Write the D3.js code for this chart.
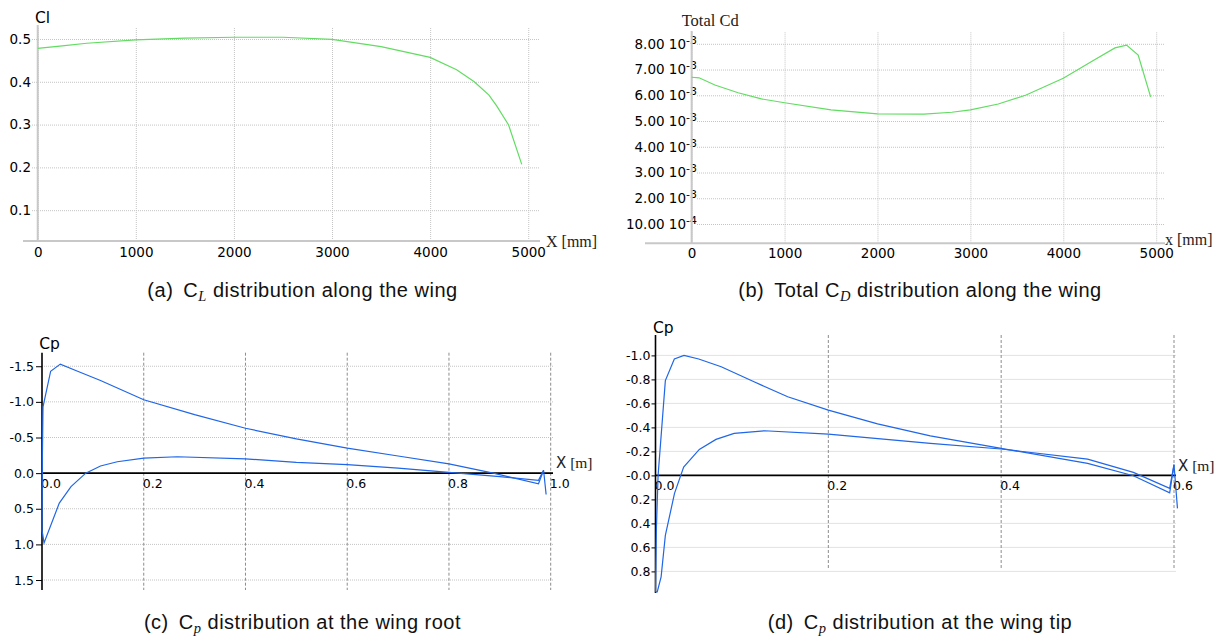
<!DOCTYPE html>
<html>
<head>
<meta charset="utf-8">
<script src="https://cdn.jsdelivr.net/npm/d3@7"></script>
<style>
  body { margin: 0; background: #fff; }
  svg { display: block; }
</style>
</head>
<body>
<svg id="fig" width="1225" height="639"></svg>
<script>
// ---------- data ----------
// (a) lift coefficient along the span
const clSpan   = [0, 250, 500, 1000, 1500, 2000, 2500, 3000, 3500, 4000, 4270, 4450, 4600, 4680, 4800, 4934];
const clValues = [0.478, 0.484, 0.490, 0.498, 0.502, 0.504, 0.504, 0.499, 0.482, 0.457, 0.428, 0.400, 0.369, 0.343, 0.299, 0.207];
const clTicks  = [0.1, 0.2, 0.3, 0.4, 0.5];
const spanTicks = [0, 1000, 2000, 3000, 4000, 5000];

// (b) total drag coefficient along the span (x 1e-3)
const cdSpan   = [0, 80, 250, 500, 750, 1000, 1500, 2000, 2500, 2800, 3000, 3300, 3600, 4000, 4300, 4556, 4681, 4806, 4940];
const cdValues = [6.70, 6.68, 6.40, 6.10, 5.86, 5.71, 5.43, 5.28, 5.27, 5.34, 5.43, 5.66, 6.01, 6.66, 7.30, 7.84, 7.95, 7.56, 5.94];
const cdTicks  = [1, 2, 3, 4, 5, 6, 7, 8];
const cdTickMantissa = ["10.00", "2.00", "3.00", "4.00", "5.00", "6.00", "7.00", "8.00"];
const cdTickExponent = ["-4", "-3", "-3", "-3", "-3", "-3", "-3", "-3"];

// (c) pressure coefficient at the root section
const rootUpperX  = [0, 0.0008, 0.002, 0.017, 0.036, 0.07, 0.115, 0.2, 0.3, 0.4, 0.5, 0.6, 0.7, 0.8, 0.887, 0.976, 0.986, 0.991];
const rootUpperCp = [0.80, -0.25, -0.93, -1.43, -1.53, -1.43, -1.30, -1.03, -0.82, -0.63, -0.48, -0.35, -0.24, -0.13, 0.0, 0.15, -0.04, 0.30];
const rootLowerX  = [0, 0.004, 0.034, 0.057, 0.086, 0.115, 0.148, 0.2, 0.266, 0.4, 0.5, 0.6, 0.7, 0.8, 0.9, 0.976, 0.986];
const rootLowerCp = [0.80, 0.98, 0.42, 0.19, 0.0, -0.10, -0.16, -0.21, -0.23, -0.20, -0.15, -0.12, -0.07, -0.01, 0.05, 0.10, -0.04];
const rootXTicks  = [0, 0.2, 0.4, 0.6, 0.8, 1.0];
const rootXTickLabels = ["0.0", "0.2", "0.4", "0.6", "0.8", "1.0"];
const rootCpTicks = [-1.5, -1.0, -0.5, 0, 0.5, 1.0, 1.5];
const rootCpTickLabels = ["-1.5", "-1.0", "-0.5", "0.0", "0.5", "1.0", "1.5"];

// (d) pressure coefficient at the tip section
const tipUpperX  = [0, 0.001, 0.003, 0.0114, 0.0218, 0.033, 0.05, 0.076, 0.114, 0.153, 0.2, 0.257, 0.318, 0.4, 0.5, 0.553, 0.595, 0.6, 0.604];
const tipUpperCp = [0.97, 0.45, 0.0, -0.79, -0.97, -1.00, -0.97, -0.905, -0.78, -0.655, -0.544, -0.43, -0.33, -0.225, -0.10, 0.003, 0.145, -0.09, 0.275];
const tipLowerX  = [0, 0.002, 0.0065, 0.0114, 0.022, 0.0326, 0.0507, 0.07, 0.091, 0.126, 0.2, 0.318, 0.4, 0.5, 0.553, 0.595, 0.6];
const tipLowerCp = [0.97, 0.97, 0.845, 0.50, 0.15, -0.07, -0.217, -0.30, -0.35, -0.372, -0.344, -0.267, -0.22, -0.136, -0.025, 0.108, -0.09];
const tipXTicks  = [0, 0.2, 0.4, 0.6];
const tipXTickLabels = ["0.0", "0.2", "0.4", "0.6"];
const tipCpTicks = [-1.0, -0.8, -0.6, -0.4, -0.2, 0, 0.2, 0.4, 0.6, 0.8];
const tipCpTickLabels = ["-1.0", "-0.8", "-0.6", "-0.4", "-0.2", "-0.0", "0.2", "0.4", "0.6", "0.8"];

// ---------- styling ----------
const SANS = "'DejaVu Sans', Verdana, sans-serif";
const SERIF = "'Liberation Serif', 'Times New Roman', serif";
const CAPTION = "'Liberation Sans', Arial, Helvetica, sans-serif";
const GREEN = "#62dc62";
const BLUE = "#1f66e8";
const GRID = "#c4c4c4";
const AXIS_GREY = "#c8c8c8";

const svg = d3.select("#fig");
svg.append("rect").attr("width", 1225).attr("height", 639).attr("fill", "#fff");

function styleTickText(sel, size) {
  sel.attr("font-family", SANS).attr("font-size", size).attr("fill", "#000");
}

// ---------- (a) Cl along the span ----------
{
  const x = d3.scaleLinear().domain([-150, 5120]).range([23, 540]);
  const y = d3.scaleLinear().domain([0.028, 0.528]).range([241, 27]);
  const g = svg.append("g");

  const ya = g.append("g").attr("transform", "translate(32,0)")
    .call(d3.axisLeft(y).tickValues(clTicks).tickFormat(v => v.toFixed(1))
      .tickSize(-(540 - 32)).tickPadding(1));
  ya.select(".domain").remove();
  ya.selectAll(".tick line").attr("stroke", GRID).attr("stroke-dasharray", "1,1");
  styleTickText(ya.selectAll(".tick text"), 13.5);

  const xa = g.append("g").attr("transform", "translate(0,241)")
    .call(d3.axisBottom(x).tickValues(spanTicks).tickFormat(d3.format("d"))
      .tickSize(-(241 - 27)).tickPadding(6.3));
  xa.select(".domain").remove();
  xa.selectAll(".tick line").attr("stroke", GRID).attr("stroke-dasharray", "1,1");
  styleTickText(xa.selectAll(".tick text"), 13.5);

  g.append("line").attr("x1", x(0)).attr("x2", x(0)).attr("y1", 25).attr("y2", 242)
    .attr("stroke", AXIS_GREY).attr("stroke-width", 2);
  g.append("line").attr("x1", 23).attr("x2", 540).attr("y1", 241).attr("y2", 241)
    .attr("stroke", AXIS_GREY).attr("stroke-width", 2);

  g.append("path").datum(d3.zip(clSpan, clValues))
    .attr("fill", "none").attr("stroke", GREEN).attr("stroke-width", 1.2)
    .attr("d", d3.line().x(d => x(d[0])).y(d => y(d[1])));

  g.append("text").attr("x", 35).attr("y", 23.3).attr("font-family", SANS)
    .attr("font-size", 15.5).attr("fill", "#000").text("Cl");
  g.append("text").attr("x", 546).attr("y", 246.5).attr("font-family", SERIF)
    .attr("font-size", 16).attr("fill", "#222").text("X [mm]");
}

// ---------- (b) total Cd along the span ----------
{
  const x = d3.scaleLinear().domain([-500, 5100]).range([645.2, 1165.5]);
  const y = d3.scaleLinear().domain([0.25, 8.47]).range([243.3, 31.7]);
  const g = svg.append("g");

  const ya = g.append("g").attr("transform", "translate(697,0)")
    .call(d3.axisLeft(y).tickValues(cdTicks).tickFormat("")
      .tickSize(-(1165 - 697)).tickPadding(0));
  ya.select(".domain").remove();
  ya.selectAll(".tick line").attr("stroke", GRID).attr("stroke-dasharray", "1,1");
  ya.selectAll(".tick text").each(function(d, i) {
    const t = d3.select(this);
    styleTickText(t, 13.5);
    t.append("tspan").text(cdTickMantissa[i] + " 10");
    t.append("tspan").attr("font-size", 11).attr("dy", "-0.45em").text(cdTickExponent[i]);
  });

  const xa = g.append("g").attr("transform", "translate(0,243.3)")
    .call(d3.axisBottom(x).tickValues(spanTicks).tickFormat(d3.format("d"))
      .tickSize(-(243.3 - 31.7)).tickPadding(5.6));
  xa.select(".domain").remove();
  xa.selectAll(".tick line").attr("stroke", GRID).attr("stroke-dasharray", "1,1");
  styleTickText(xa.selectAll(".tick text"), 13.5);

  g.append("line").attr("x1", x(0)).attr("x2", x(0)).attr("y1", 31).attr("y2", 244)
    .attr("stroke", AXIS_GREY).attr("stroke-width", 2);
  g.append("line").attr("x1", 645).attr("x2", 1165).attr("y1", 243.3).attr("y2", 243.3)
    .attr("stroke", AXIS_GREY).attr("stroke-width", 2);

  g.append("path").datum(d3.zip(cdSpan, cdValues))
    .attr("fill", "none").attr("stroke", GREEN).attr("stroke-width", 1.2)
    .attr("d", d3.line().x(d => x(d[0])).y(d => y(d[1])));

  g.append("text").attr("x", 681.7).attr("y", 26).attr("font-family", SERIF)
    .attr("font-size", 16.5).attr("fill", "#222").text("Total Cd");
  g.append("text").attr("x", 1165).attr("y", 245).attr("font-family", SERIF)
    .attr("font-size", 16).attr("fill", "#222").text("x [mm]");
}

// ---------- (c), (d) Cp along the chord ----------
function cpPanel(c) {
  const g = svg.append("g");
  const { x, y } = c;
  const x0 = x(0);

  // horizontal dotted grid
  g.append("g").selectAll("line").data(c.cpTicks).join("line")
    .attr("x1", x0).attr("x2", c.xEnd).attr("y1", d => y(d)).attr("y2", d => y(d))
    .attr("stroke", GRID).attr("stroke-dasharray", "1,1");
  // vertical dashed grid
  g.append("g").selectAll("line").data(c.xTicks.filter(d => d > 0)).join("line")
    .attr("x1", d => x(d)).attr("x2", d => x(d)).attr("y1", c.top).attr("y2", c.gridBottom)
    .attr("stroke", "#8c8c8c").attr("stroke-dasharray", "3,2");

  // y axis with tick marks and labels
  const ya = g.append("g").attr("transform", `translate(${x0},0)`)
    .call(d3.axisLeft(y).tickValues(c.cpTicks).tickFormat((d, i) => c.cpLabels[i])
      .tickSize(c.tickLen).tickPadding(c.tickPad));
  ya.select(".domain").remove();
  ya.selectAll(".tick line").attr("stroke", "#000").attr("stroke-width", 1);
  styleTickText(ya.selectAll(".tick text"), 12.5);
  g.append("line").attr("x1", x0).attr("x2", x0).attr("y1", c.top).attr("y2", c.bottom)
    .attr("stroke", "#000").attr("stroke-width", 1.6);

  // x axis along Cp = 0
  const xa = g.append("g").attr("transform", `translate(0,${y(0)})`)
    .call(d3.axisBottom(x).tickValues(c.xTicks).tickFormat((d, i) => c.xLabels[i])
      .tickSize(0).tickPadding(c.xLabelPad));
  xa.select(".domain").remove();
  styleTickText(xa.selectAll(".tick text").attr("text-anchor", "start").attr("dx", -1.5), 12.5);
  g.append("line").attr("x1", x0).attr("x2", c.xEnd).attr("y1", y(0)).attr("y2", y(0))
    .attr("stroke", "#000").attr("stroke-width", 1.6);

  // upper and lower surface curves
  const line = d3.line().x(d => x(d[0])).y(d => y(d[1]));
  [c.upper, c.lower].forEach(s => {
    g.append("path").datum(s).attr("fill", "none").attr("stroke", BLUE)
      .attr("stroke-width", 1.2).attr("stroke-linejoin", "miter").attr("d", line);
  });

  g.append("text").attr("x", c.cpLabel[0]).attr("y", c.cpLabel[1]).attr("font-family", SANS)
    .attr("font-size", 15.5).attr("fill", "#000").text("Cp");
  const xl = g.append("text").attr("x", c.xLabel[0]).attr("y", c.xLabel[1]).attr("fill", "#222");
  xl.append("tspan").attr("font-family", SANS).attr("font-size", 15).text("X");
  xl.append("tspan").attr("font-family", SERIF).attr("font-size", 15.5).text(" [m]");
}

cpPanel({
  x: d3.scaleLinear().domain([0, 1]).range([42, 550.7]),
  y: d3.scaleLinear().domain([-1.69, 1.64]).range([352.7, 590]),
  xEnd: 553, top: 352.7, bottom: 590, gridBottom: 590,
  xTicks: rootXTicks, xLabels: rootXTickLabels,
  cpTicks: rootCpTicks, cpLabels: rootCpTickLabels,
  tickLen: 6, tickPad: 2, xLabelPad: 6,
  upper: d3.zip(rootUpperX, rootUpperCp), lower: d3.zip(rootLowerX, rootLowerCp),
  cpLabel: [39.3, 349.3], xLabel: [556, 468.3]
});

cpPanel({
  x: d3.scaleLinear().domain([0, 0.6]).range([655.5, 1174]),
  y: d3.scaleLinear().domain([-1.17, 0.98]).range([335, 593]),
  xEnd: 1176, top: 335, bottom: 593, gridBottom: 570,
  xTicks: tipXTicks, xLabels: tipXTickLabels,
  cpTicks: tipCpTicks, cpLabels: tipCpTickLabels,
  tickLen: 4, tickPad: 1, xLabelPad: 6,
  upper: d3.zip(tipUpperX, tipUpperCp), lower: d3.zip(tipLowerX, tipLowerCp),
  cpLabel: [653, 332.7], xLabel: [1178, 470.7]
});

// ---------- sub-figure captions ----------
const captions = [
  { cx: 302.5, y: 297, tag: "(a)", pre: "", sub: "L", post: " distribution along the wing" },
  { cx: 920,   y: 297, tag: "(b)", pre: "Total ", sub: "D", post: " distribution along the wing" },
  { cx: 302.5, y: 629, tag: "(c)", pre: "", sub: "p", post: " distribution at the wing root" },
  { cx: 920,   y: 629, tag: "(d)", pre: "", sub: "p", post: " distribution at the wing tip" }
];
captions.forEach(cp => {
  const t = svg.append("text").attr("x", cp.cx).attr("y", cp.y).attr("text-anchor", "middle")
    .attr("font-family", CAPTION).attr("font-size", 20).attr("letter-spacing", 0.5)
    .attr("fill", "#111");
  t.append("tspan").text(cp.tag);
  t.append("tspan").attr("dx", 10).text(cp.pre + "C");
  t.append("tspan").attr("font-family", SERIF).attr("font-style", "italic")
    .attr("font-size", 14.5).attr("dy", 3.6).text(cp.sub);
  t.append("tspan").attr("dy", -3.6).text(cp.post);
});
</script>
</body>
</html>
